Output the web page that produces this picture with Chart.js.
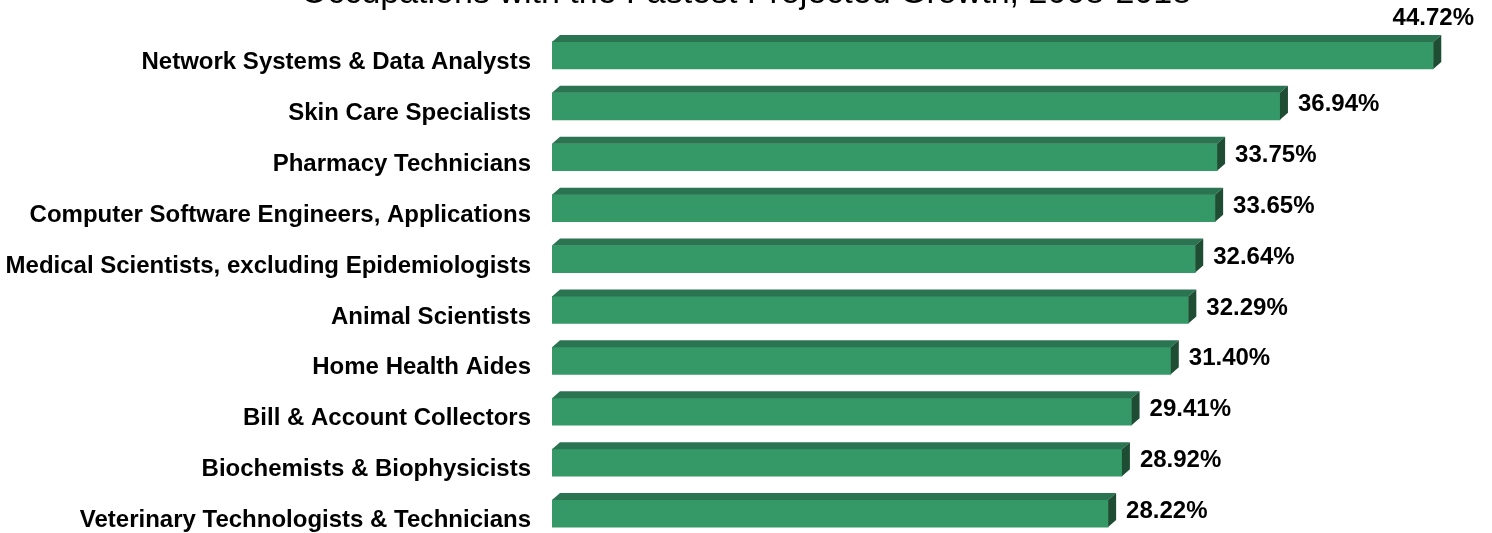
<!DOCTYPE html>
<html>
<head>
<meta charset="utf-8">
<script src="https://cdn.jsdelivr.net/npm/chart.js@4.4.1/dist/chart.umd.min.js"></script>
<style>
  html, body { margin: 0; padding: 0; background: #ffffff; overflow: hidden; width: 1492px; height: 533px; }
  #c { position: absolute; left: 0; top: -40px; }
</style>
</head>
<body>
<canvas id="c" width="1492" height="580"></canvas>
<script>
const titleText = "Occupations with the Fastest Projected Growth, 2008-2018";
const categories = [
  "Network Systems & Data Analysts",
  "Skin Care Specialists",
  "Pharmacy Technicians",
  "Computer Software Engineers, Applications",
  "Medical Scientists, excluding Epidemiologists",
  "Animal Scientists",
  "Home Health Aides",
  "Bill & Account Collectors",
  "Biochemists & Biophysicists",
  "Veterinary Technologists & Technicians"
];
const growthValues = [44.72, 36.94, 33.75, 33.65, 32.64, 32.29, 31.40, 29.41, 28.92, 28.22];
const valueLabels = ["44.72%", "36.94%", "33.75%", "33.65%", "32.64%", "32.29%", "31.40%", "29.41%", "28.92%", "28.22%"];
const axisMax = 47.7;

const FONT = "'Liberation Sans', Arial, Helvetica, sans-serif";
const FRONT = "#349967";
const TOP = "#2b7452";
const SIDE = "#1e4d34";
const DX = 8, DY = 7;

const bar3d = {
  id: 'bar3d',
  afterDatasetsDraw(chart) {
    const ctx = chart.ctx;
    const meta = chart.getDatasetMeta(0);
    ctx.save();
    meta.data.forEach((bar) => {
      const p = bar.getProps(['x', 'y', 'base', 'height'], true);
      const x0 = p.base, x1 = p.x;
      const t = p.y - p.height / 2, b = p.y + p.height / 2;
      ctx.fillStyle = TOP;
      ctx.beginPath();
      ctx.moveTo(x0, t);
      ctx.lineTo(x0 + DX, t - DY);
      ctx.lineTo(x1 + DX, t - DY);
      ctx.lineTo(x1, t);
      ctx.closePath();
      ctx.fill();
      ctx.fillStyle = SIDE;
      ctx.beginPath();
      ctx.moveTo(x1, t);
      ctx.lineTo(x1 + DX, t - DY);
      ctx.lineTo(x1 + DX, b - DY);
      ctx.lineTo(x1, b);
      ctx.closePath();
      ctx.fill();
    });
    ctx.fillStyle = "#000000";
    ctx.font = "bold 24px " + FONT;
    ctx.textBaseline = "middle";
    meta.data.forEach((bar, i) => {
      const p = bar.getProps(['x', 'y'], true);
      const txt = valueLabels[i];
      const w = ctx.measureText(txt).width;
      const lx = p.x + 18;
      if (lx + w > chart.width - 10) {
        ctx.textAlign = "right";
        ctx.fillText(txt, chart.width - 18, p.y - 37);
      } else {
        ctx.textAlign = "left";
        ctx.fillText(txt, lx, p.y - 2);
      }
    });
    ctx.restore();
  }
};

new Chart(document.getElementById('c'), {
  type: 'bar',
  data: {
    labels: categories,
    datasets: [{
      data: growthValues,
      backgroundColor: FRONT,
      borderWidth: 0,
      barThickness: 27
    }]
  },
  options: {
    indexAxis: 'y',
    responsive: false,
    animation: false,
    events: [],
    devicePixelRatio: 1,
    layout: { padding: { left: 0, right: 0, top: 0, bottom: 1 } },
    plugins: {
      legend: { display: false },
      tooltip: { enabled: false },
      title: {
        display: true,
        text: titleText,
        color: "#000000",
        font: { family: FONT, size: 34, weight: 'normal' },
        padding: { top: 13, bottom: 16.2 }
      }
    },
    scales: {
      x: {
        display: false,
        min: 0,
        max: axisMax
      },
      y: {
        grid: { display: false, drawTicks: false },
        border: { display: false },
        ticks: {
          color: "#000000",
          font: { family: FONT, size: 24, weight: 'bold' },
          padding: 21,
          labelOffset: 7
        },
        afterFit(scale) {
          scale.width = 552;
          scale.paddingTop = 0;
          scale.paddingBottom = 0;
        }
      }
    }
  },
  plugins: [bar3d]
});
</script>
</body>
</html>
